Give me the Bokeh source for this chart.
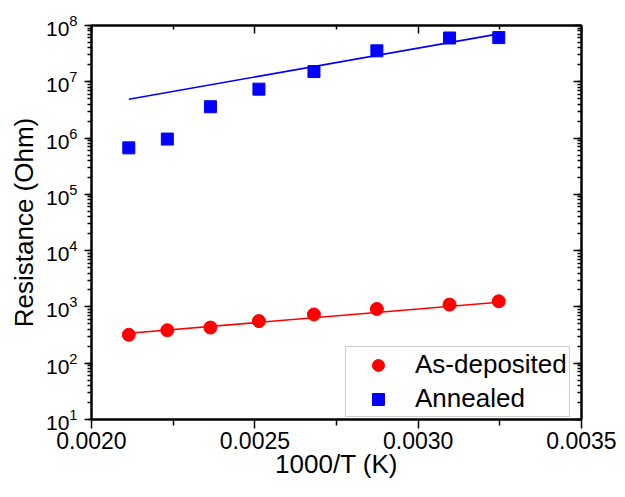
from bokeh.plotting import figure
from bokeh.models import (LinearAxis, LogAxis, Legend, LegendItem, Range1d, FixedTicker,
                          LogTicker, CustomJSTickFormatter)
from bokeh.embed import file_html
from bokeh.resources import INLINE

# ---- data ----
inv_T = [0.0021142, 0.0022321, 0.0023641, 0.0025126, 0.0026810, 0.0028736, 0.0030960, 0.0032468]
R_as_deposited = [320, 385, 430, 560, 735, 920, 1100, 1260]
R_annealed = [6.7e5, 9.6e5, 3.6e6, 7.4e6, 1.52e7, 3.55e7, 6.0e7, 6.1e7]
fit_x = [0.0021142, 0.0032468]
fit_as_deposited = [340, 1210]
fit_annealed = [4.9e6, 7.1e7]
x_ticks = [0.0020, 0.0025, 0.0030, 0.0035]
x_tick_labels = ["0.0020", "0.0025", "0.0030", "0.0035"]

FONT = "Liberation Sans"
RED = "#FF0000"
BLUE = "#0000FF"

p = figure(width=617, height=481, output_backend="svg", toolbar_location=None,
           y_axis_type="log", x_range=Range1d(0.0020, 0.0035), y_range=Range1d(10, 1e8),
           min_border_left=91, min_border_right=36, min_border_top=25, min_border_bottom=62,
           x_axis_label="1000/T (K)", y_axis_label="Resistance (Ohm)")
p.grid.visible = False
p.outline_line_color = "black"
p.outline_line_width = 2
p.background_fill_color = "white"
p.border_fill_color = "white"

xt = FixedTicker(ticks=x_ticks, minor_ticks=[0.00225, 0.00275, 0.00325])
xa = p.xaxis[0]
xa.ticker = xt
xa.major_label_overrides = {t: l for t, l in zip(x_ticks, x_tick_labels)}
ya = p.yaxis[0]
ya.ticker = LogTicker(num_minor_ticks=10)

for ax in (xa, ya):
    ax.axis_line_width = 2
    ax.major_tick_line_width = 1.5
    ax.minor_tick_line_width = 1.5
    ax.major_tick_in = 0
    ax.minor_tick_in = 0
    ax.major_label_text_font = FONT
    ax.major_label_text_color = "black"
    ax.axis_label_text_font = FONT
    ax.axis_label_text_font_size = "26px"
    ax.axis_label_text_font_style = "normal"
    ax.axis_label_text_color = "black"
xa.major_label_text_font_size = "23px"
ya.major_label_text_font_size = "21px"
xa.major_tick_out = 9
xa.minor_tick_out = 6
xa.major_label_standoff = 3
xa.axis_label_standoff = -3
ya.major_tick_out = 7
ya.minor_tick_out = 4
ya.major_label_standoff = 7
ya.axis_label_standoff = 4

blank = CustomJSTickFormatter(code="return ''")
top = LinearAxis(ticker=xt, formatter=blank, major_tick_in=8, major_tick_out=0,
                 minor_tick_in=4, minor_tick_out=0, axis_line_width=2,
                 major_tick_line_width=1.5, minor_tick_line_width=1.5, major_label_standoff=0)
right = LogAxis(ticker=LogTicker(num_minor_ticks=10), formatter=blank,
                major_tick_in=8, major_tick_out=0, minor_tick_in=4, minor_tick_out=0,
                axis_line_width=2, major_tick_line_width=1.5, minor_tick_line_width=1.5,
                major_label_standoff=0)
p.add_layout(top, "above")
p.add_layout(right, "right")

p.line(fit_x, fit_as_deposited, line_color=RED, line_width=1.6)
p.line(fit_x, fit_annealed, line_color=BLUE, line_width=1.6)
r1 = p.scatter(inv_T, R_as_deposited, marker="circle", size=13, fill_color=RED, line_color=RED)
r2 = p.scatter(inv_T, R_annealed, marker="square", size=12, fill_color=BLUE, line_color=BLUE)

legend = Legend(items=[LegendItem(label="As-deposited", renderers=[r1]),
                       LegendItem(label="Annealed", renderers=[r2])],
                location=(254, 2), padding=2, spacing=3, margin=0,
                glyph_width=60, glyph_height=30, label_height=30, label_standoff=7,
                label_text_font=FONT, label_text_font_size="26px", label_text_color="black",
                border_line_color="#A0A0A0", border_line_width=1,
                background_fill_color="white", background_fill_alpha=1)
p.add_layout(legend, "center")

open("out.html", "w").write(file_html(p, INLINE))
